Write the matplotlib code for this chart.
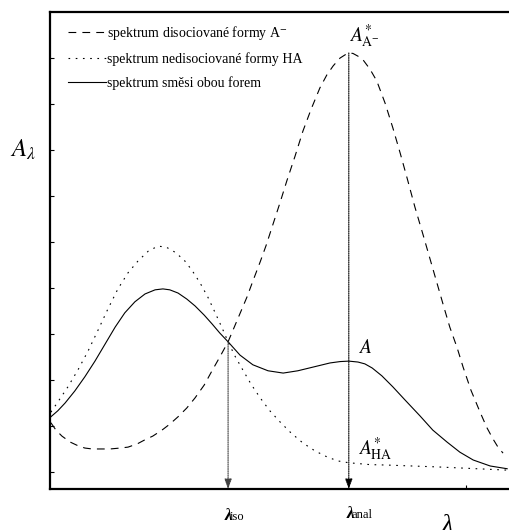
import matplotlib.pyplot as plt
import matplotlib.transforms as mtransforms

plt.rcParams['font.family'] = ['Liberation Serif', 'DejaVu Serif']
plt.rcParams['mathtext.fontset'] = 'stix'

# wavelength (relative units) and absorbance readings for the three spectra
lam_anion = [0.002, 0.013, 0.026, 0.044, 0.061, 0.076, 0.092, 0.131, 0.153, 0.170,
             0.190, 0.207, 0.224, 0.244, 0.261, 0.279, 0.298, 0.316, 0.336, 0.353,
             0.370, 0.388, 0.407, 0.429, 0.442, 0.458, 0.471, 0.484, 0.501, 0.516,
             0.534, 0.551, 0.569, 0.588, 0.603, 0.617, 0.632, 0.643, 0.651, 0.660,
             0.671, 0.682, 0.697, 0.712, 0.730, 0.747, 0.763, 0.778, 0.795, 0.813,
             0.828, 0.843, 0.858, 0.871, 0.887, 0.900, 0.917, 0.937, 0.952, 0.965,
             0.976, 0.987]
abs_anion = [0.107, 0.091, 0.078, 0.065, 0.057, 0.052, 0.050, 0.050, 0.052, 0.054,
             0.061, 0.070, 0.078, 0.091, 0.104, 0.120, 0.139, 0.161, 0.189, 0.220,
             0.250, 0.283, 0.328, 0.380, 0.415, 0.457, 0.493, 0.533, 0.585, 0.633,
             0.687, 0.741, 0.789, 0.835, 0.863, 0.883, 0.900, 0.907, 0.911, 0.910,
             0.904, 0.896, 0.876, 0.850, 0.802, 0.748, 0.693, 0.639, 0.576, 0.515,
             0.463, 0.411, 0.359, 0.315, 0.270, 0.228, 0.178, 0.130, 0.096, 0.072,
             0.054, 0.041]

lam_acid = [0.002, 0.017, 0.039, 0.061, 0.083, 0.105, 0.126, 0.148, 0.170, 0.192,
            0.214, 0.235, 0.253, 0.272, 0.292, 0.309, 0.327, 0.344, 0.359, 0.375,
            0.388, 0.403, 0.420, 0.438, 0.458, 0.479, 0.501, 0.525, 0.551, 0.577,
            0.603, 0.627, 0.651, 0.697, 0.734, 0.843, 0.996]
abs_acid = [0.130, 0.152, 0.185, 0.222, 0.263, 0.309, 0.354, 0.398, 0.433, 0.459,
            0.480, 0.491, 0.489, 0.478, 0.461, 0.439, 0.411, 0.380, 0.348, 0.313,
            0.283, 0.252, 0.222, 0.191, 0.161, 0.133, 0.109, 0.085, 0.063, 0.046,
            0.033, 0.024, 0.020, 0.016, 0.015, 0.011, 0.004]

lam_mix = [0.002, 0.017, 0.033, 0.054, 0.076, 0.098, 0.120, 0.142, 0.163, 0.185,
           0.207, 0.229, 0.246, 0.261, 0.279, 0.298, 0.316, 0.336, 0.353, 0.370,
           0.388, 0.414, 0.442, 0.475, 0.508, 0.540, 0.573, 0.610, 0.632, 0.651,
           0.671, 0.686, 0.702, 0.723, 0.747, 0.773, 0.806, 0.834, 0.865, 0.893,
           0.922, 0.959, 0.996]
abs_mix = [0.120, 0.133, 0.150, 0.176, 0.207, 0.241, 0.278, 0.315, 0.346, 0.370,
           0.387, 0.396, 0.398, 0.396, 0.389, 0.376, 0.361, 0.341, 0.322, 0.302,
           0.283, 0.254, 0.233, 0.220, 0.215, 0.220, 0.228, 0.237, 0.240, 0.241,
           0.239, 0.235, 0.226, 0.209, 0.185, 0.157, 0.122, 0.091, 0.065, 0.043,
           0.026, 0.013, 0.007]

# isosbestic point and analytical wavelength
lam_iso, abs_iso = 0.388, 0.283
lam_anal, abs_anal_peak = 0.651, 0.911
abs_anal_mix = 0.241
abs_anal_acid = 0.020

labels = ['spektrum disociované formy A$^{-}$',
          'spektrum nedisociované formy HA',
          'spektrum směsi obou forem']

fig = plt.figure(figsize=(5.09, 5.30), dpi=100)
ax = fig.add_axes([0.0982, 0.0774, 0.9018, 0.8999])

lw = 0.8
ax.plot(lam_anion, abs_anion, color='black', lw=lw, ls=(0, (7, 5.5)), label=labels[0])
ax.plot(lam_acid, abs_acid, color='black', lw=lw, ls=(0, (1.5, 5)), label=labels[1])
ax.plot(lam_mix, abs_mix, color='black', lw=lw, ls='-', label=labels[2])

ymin, ymax = -0.037, 1.0
ax.set_xlim(0, 1)
ax.set_ylim(ymin, ymax)

# dotted drop lines down to the wavelength axis
arrow = dict(arrowstyle='-|>,head_length=0.6,head_width=0.22', color='0.25',
             lw=0.8, linestyle=(0, (1, 1)), shrinkA=0, shrinkB=0)
ax.annotate('', xy=(lam_iso, ymin), xytext=(lam_iso, abs_iso), arrowprops=arrow)
ax.annotate('', xy=(lam_anal, ymin), xytext=(lam_anal, abs_anal_peak),
            arrowprops=dict(arrow, color='black'))

# point labels
ax.text(lam_anal, 0.935, r'$A^{*}_{\mathrm{A}^{-}}$', fontsize=14, ha='left', va='baseline')
ax.text(lam_anal + 0.02, abs_anal_mix + 0.018, r'$A$', fontsize=14, ha='left', va='baseline')
ax.text(lam_anal + 0.02, abs_anal_acid + 0.017, r'$A^{*}_{\mathrm{HA}}$', fontsize=14,
        ha='left', va='baseline')

# axis labels
fig.text(10 / 509, 1 - 157 / 530, r'$A_{\lambda}$', fontsize=18, va='baseline')
fig.text(442 / 509, -0.004, 'λ', fontsize=19, style='italic', va='baseline')

tr = mtransforms.blended_transform_factory(ax.transData, fig.transFigure)
ax.text(lam_iso - 0.008, 0.019, 'λ', transform=tr, fontsize=12, style='italic',
        fontweight='bold', va='baseline', clip_on=False)
ax.text(lam_iso + 0.004, 0.019, 'iso', transform=tr, fontsize=9, va='baseline', clip_on=False)
ax.text(lam_anal - 0.004, 0.023, 'λ', transform=tr, fontsize=12, style='italic',
        fontweight='bold', va='baseline', clip_on=False)
ax.text(lam_anal + 0.006, 0.023, 'anal', transform=tr, fontsize=9, va='baseline', clip_on=False)

ax.legend(loc='upper left', bbox_to_anchor=(0.04, 0.975), frameon=False, fontsize=10,
          handlelength=2.7, handletextpad=0.05, labelspacing=0.75, borderpad=0,
          borderaxespad=0)

for side in ['left', 'bottom', 'top']:
    ax.spines[side].set_linewidth(1.6)
ax.spines['right'].set_visible(False)

ax.set_yticks([0.0, 0.1, 0.2, 0.3, 0.4, 0.5, 0.6, 0.7, 0.8, 0.9])
ax.set_xticks([0.906])
ax.tick_params(direction='in', length=3, width=0.8, labelleft=False, labelbottom=False)

plt.savefig('out.png', dpi=100)
